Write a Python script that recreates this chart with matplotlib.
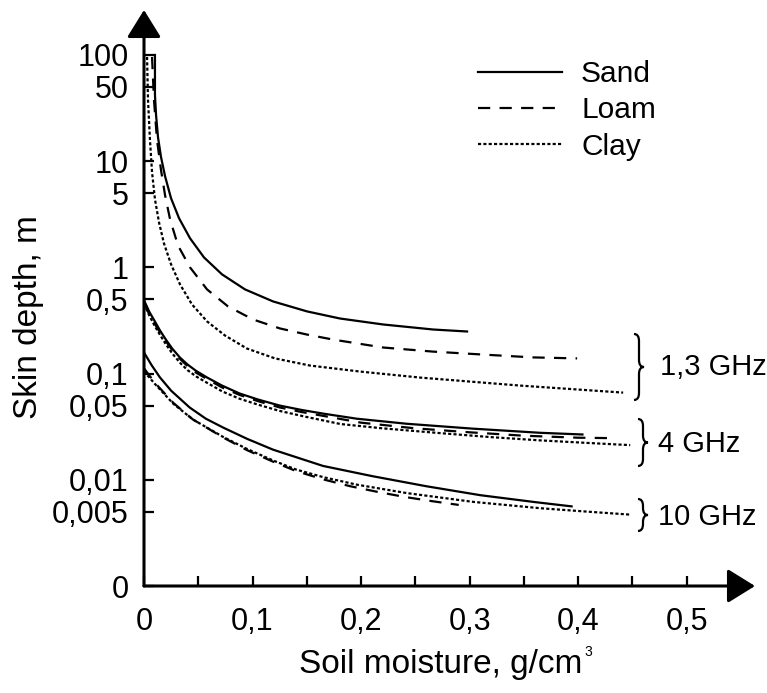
import matplotlib
matplotlib.use("Agg")
import matplotlib.pyplot as plt
from matplotlib.path import Path
from matplotlib.patches import PathPatch
from matplotlib.ticker import NullLocator

# --- Data (skin depth in m vs soil moisture in g/cm3) ---
# 1,3 GHz
sand_13_x = [0.0101, 0.0101, 0.0111, 0.0129, 0.0157, 0.0194, 0.0249, 0.0323, 0.0424, 0.0553, 0.0719,
             0.0931, 0.1189, 0.1502, 0.1806, 0.2203, 0.2664, 0.2977]
sand_13_y = [100, 42.0, 27.2, 16.8, 10.9, 7.22, 4.48, 2.90, 1.88, 1.24, 0.859,
             0.620, 0.478, 0.385, 0.330, 0.290, 0.260, 0.249]
loam_13_x = [0.0074, 0.0092, 0.0120, 0.0157, 0.0194, 0.0240, 0.0313, 0.0424, 0.0581, 0.0774,
             0.1005, 0.1253, 0.1502, 0.1742, 0.2203, 0.2664, 0.3124, 0.3585, 0.3991]
loam_13_y = [95.7, 37.6, 15.8, 8.22, 4.78, 2.84, 1.61, 1.00, 0.620, 0.429,
             0.323, 0.266, 0.233, 0.209, 0.176, 0.161, 0.151, 0.142, 0.139]
clay_13_x = [0.0028, 0.0037, 0.0055, 0.0074, 0.0101, 0.0138, 0.0184, 0.0249, 0.0332, 0.0442,
             0.0581, 0.0747, 0.0949, 0.1207, 0.1530, 0.1991, 0.2544, 0.3465, 0.4415]
clay_13_y = [95.7, 37.6, 15.8, 7.88, 4.38, 2.66, 1.68, 1.07, 0.691, 0.448,
             0.310, 0.228, 0.172, 0.139, 0.119, 0.1045, 0.0917, 0.0771, 0.0662]

# 4 GHz
sand_4_x = [0.0, 0.005, 0.010, 0.0147, 0.020, 0.026, 0.033, 0.040, 0.048, 0.058, 0.072, 0.088,
            0.105, 0.125, 0.145, 0.165, 0.196, 0.242, 0.303, 0.365, 0.404]
sand_4_y = [0.49, 0.38, 0.31, 0.255, 0.21, 0.172, 0.142, 0.122, 0.106, 0.092, 0.077, 0.065,
            0.057, 0.050, 0.0455, 0.042, 0.0376, 0.0337, 0.0303, 0.0277, 0.0267]
loam_4_x = [0.0, 0.005, 0.010, 0.0147, 0.020, 0.026, 0.033, 0.040, 0.048, 0.058, 0.072, 0.088,
            0.105, 0.125, 0.145, 0.165, 0.200, 0.250, 0.300, 0.350, 0.400, 0.427]
loam_4_y = [0.46, 0.36, 0.293, 0.245, 0.203, 0.167, 0.138, 0.118, 0.102, 0.089, 0.074, 0.063,
            0.055, 0.048, 0.0435, 0.040, 0.0345, 0.0305, 0.0280, 0.0260, 0.0249, 0.0247]
clay_4_x = [0.0, 0.005, 0.010, 0.0147, 0.020, 0.026, 0.033, 0.040, 0.048, 0.058, 0.072, 0.088,
            0.105, 0.125, 0.150, 0.181, 0.220, 0.273, 0.320, 0.365, 0.410, 0.448]
clay_4_y = [0.457, 0.35, 0.28, 0.232, 0.19, 0.155, 0.127, 0.108, 0.094, 0.082, 0.068, 0.058,
            0.051, 0.0445, 0.039, 0.0335, 0.0305, 0.0275, 0.0252, 0.0235, 0.0222, 0.0212]

# 10 GHz
sand_10_x = [0.0, 0.007, 0.0147, 0.025, 0.042, 0.057, 0.073, 0.095, 0.119, 0.165, 0.210, 0.260,
             0.310, 0.360, 0.394]
sand_10_y = [0.158, 0.120, 0.092, 0.069, 0.048, 0.0376, 0.031, 0.0243, 0.0192, 0.0135, 0.01084,
             0.0087, 0.00716, 0.00617, 0.00562]
loam_10_x = [0.0, 0.010, 0.027, 0.045, 0.073, 0.095, 0.119, 0.140, 0.165, 0.190, 0.215, 0.240,
             0.265, 0.290]
loam_10_y = [0.112, 0.082, 0.053, 0.037, 0.025, 0.019, 0.0148, 0.0121, 0.0101, 0.0087, 0.0077,
             0.0069, 0.0063, 0.0058]
clay_10_x = [0.0, 0.010, 0.027, 0.045, 0.073, 0.095, 0.119, 0.140, 0.165, 0.196, 0.242, 0.303,
             0.365, 0.410, 0.448]
clay_10_y = [0.105, 0.080, 0.052, 0.037, 0.0253, 0.0195, 0.0152, 0.0125, 0.0106, 0.0090, 0.0075,
             0.0062, 0.0054, 0.0050, 0.0047]

y_ticks = [0.001, 0.005, 0.01, 0.05, 0.1, 0.5, 1, 5, 10, 50, 100]
y_tick_labels = ["0", "0,005", "0,01", "0,05", "0,1", "0,5", "1", "5", "10", "50", "100"]
x_ticks = [0.0, 0.05, 0.1, 0.15, 0.2, 0.25, 0.3, 0.35, 0.4, 0.45, 0.5]
x_tick_labels = ["0", "", "0,1", "", "0,2", "", "0,3", "", "0,4", "", "0,5"]
band_labels = ["1,3 GHz", "4 GHz", "10 GHz"]

# --- Figure setup ---
W, H = 767, 693
plt.rcParams['font.family'] = ['Liberation Sans', 'DejaVu Sans']

fig = plt.figure(figsize=(W / 100, H / 100), dpi=100)


def fxy(px, py):
    return px / W, 1 - py / H


ax = fig.add_axes([144 / W, 1 - 586 / H, (755 - 144) / W, (586 - 10) / H])
ax.set_yscale('log')
ax.set_xlim(0, 0.563)
ax.set_ylim(0.001, 265)

solid = '-'
dashed = (0, (5.5, 4.2))
dotted = (0, (1.4, 1.0))
lw = 1.6

ax.plot(sand_13_x, sand_13_y, color='k', lw=lw, ls=solid, label='Sand')
ax.plot(loam_13_x, loam_13_y, color='k', lw=lw, ls=dashed, label='Loam')
ax.plot(clay_13_x, clay_13_y, color='k', lw=lw, ls=dotted, label='Clay')
ax.plot(sand_4_x, sand_4_y, color='k', lw=lw, ls=solid)
ax.plot(loam_4_x, loam_4_y, color='k', lw=lw, ls=dashed)
ax.plot(clay_4_x, clay_4_y, color='k', lw=lw, ls=dotted)
ax.plot(sand_10_x, sand_10_y, color='k', lw=lw, ls=solid)
ax.plot(loam_10_x, loam_10_y, color='k', lw=lw, ls=dashed)
ax.plot(clay_10_x, clay_10_y, color='k', lw=lw, ls=dotted)

# axes drawn as arrows
for s in ax.spines.values():
    s.set_visible(False)
arrow = dict(arrowstyle='-|>,head_length=1.0,head_width=0.62', lw=2.2, color='k',
             shrinkA=0, shrinkB=0, mutation_scale=17)
ax.annotate('', xy=(1, 0), xytext=(0, 0), xycoords='axes fraction', arrowprops=arrow)
ax.annotate('', xy=(0, 1), xytext=(0, 0), xycoords='axes fraction', arrowprops=arrow)

ax.set_yticks(y_ticks)
ax.set_yticklabels(y_tick_labels)
ax.yaxis.set_minor_locator(NullLocator())
ax.set_xticks(x_ticks)
ax.set_xticklabels(x_tick_labels)
ax.tick_params(direction='in', length=7.5, width=1.6, labelsize=22, color='k')
ax.tick_params(axis='y', pad=11)
ax.tick_params(axis='x', pad=15)

xl = fig.text(*fxy(441, 664), 'Soil moisture, g/cm', fontsize=24, ha='center', va='center')
fig.text(*fxy(29, 317), 'Skin depth, m', fontsize=24, ha='center', va='center', rotation=90)
fig.canvas.draw()
bb = xl.get_window_extent()
fig.text(bb.x1 / W + 0.002, 1 - 652 / H, '3', fontsize=10, ha='left', va='center')

leg = ax.legend(loc='upper left', bbox_to_anchor=fxy(478, 60), bbox_transform=fig.transFigure,
                frameon=False, fontsize=21.5, handlelength=2.8, handletextpad=0.65,
                labelspacing=0.28, borderpad=0, borderaxespad=0)


def brace(px, top, bottom, w=10):
    mid = (top + bottom) / 2
    r = 7
    pts = [(px, top), (px + w / 2, top), (px + w / 2, top + r),
           (px + w / 2, mid - r), (px + w / 2, mid), (px + w, mid),
           (px + w / 2, mid), (px + w / 2, mid + r),
           (px + w / 2, bottom - r), (px + w / 2, bottom), (px, bottom)]
    codes = [Path.MOVETO, Path.CURVE3, Path.CURVE3,
             Path.LINETO, Path.CURVE3, Path.CURVE3,
             Path.CURVE3, Path.CURVE3,
             Path.LINETO, Path.CURVE3, Path.CURVE3]
    verts = [fxy(x, y) for x, y in pts]
    fig.add_artist(PathPatch(Path(verts, codes), fill=False, lw=1.6, color='k',
                             transform=fig.transFigure))


brace(634, 334, 400)
brace(638, 419, 466)
brace(638, 499, 531)
fig.text(*fxy(660, 367), band_labels[0], fontsize=21, ha='left', va='center')
fig.text(*fxy(658, 444), band_labels[1], fontsize=21, ha='left', va='center')
fig.text(*fxy(658, 517), band_labels[2], fontsize=21, ha='left', va='center')

fig.savefig('out.png', dpi=100)
